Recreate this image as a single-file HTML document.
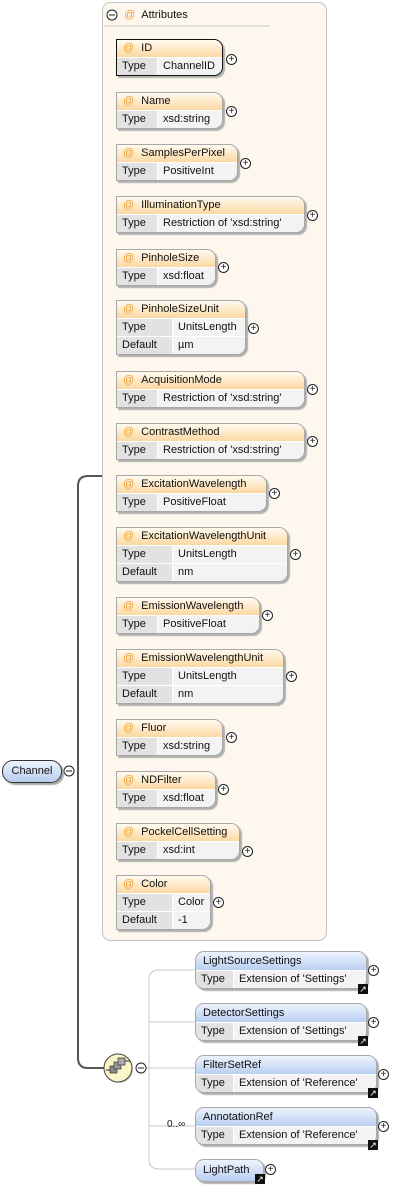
<!DOCTYPE html>
<html><head><meta charset="utf-8"><style>
body{margin:0;width:407px;height:1185px;background:#fff;position:relative;overflow:hidden;font-family:"Liberation Sans",sans-serif;font-size:11px;color:#111}
.a{position:absolute;border:1px solid #a8a8a8;border-radius:0 9px 9px 0;box-shadow:2px 2px 1px #b0b0b0;background:#f2f2f2;overflow:hidden;left:116px}
.sel{border-color:#111}
.h{height:17px;line-height:17px;background:linear-gradient(#fffaf0,#fcd8a2);padding-left:6px;white-space:nowrap}
.h i{color:#f0a030;font-style:normal;margin-right:7px}
.r{display:flex;height:17px;line-height:17px;border-top:1px solid #fff;white-space:nowrap}
.r span:first-child{background:#e2e2e2;width:35px;padding-left:5px;border-right:1px solid #fff;flex:none}
.d .r span:first-child{width:50px}
.r span:last-child{background:#f3f3f3;padding-left:5px;flex:1}
.e{position:absolute;border:1px solid #a8a8a8;border-radius:9px;box-shadow:2px 2px 1px #b0b0b0;background:#f2f2f2;overflow:hidden;left:195px}
.e .h{background:linear-gradient(#edf3fd,#b9cff1);padding-left:7px;height:18px;line-height:18px}
.e .r span:first-child{width:32px}
.p{position:absolute;width:9px;height:9px;border:1px solid #222;border-radius:50%;background:#fff;font-size:10px;line-height:9px;text-align:center;color:#222}
.ar{position:absolute;width:10px;height:10px;background:#111;color:#fff;font-size:9px;line-height:10px;text-align:center}
</style></head><body>
<svg width="407" height="1185" style="position:absolute;left:0;top:0">
<rect x="102.5" y="2.5" width="224" height="938" rx="8" fill="#fdf7ee" stroke="#c4c4c4"/>
<line x1="104" y1="26" x2="270" y2="26" stroke="#e4e0da" stroke-width="2"/>
<path d="M102 476 H88 Q78 476 78 486 V1058 Q78 1068 88 1068 H104" fill="none" stroke="#555" stroke-width="2"/>
<line x1="62" y1="771" x2="65" y2="771" stroke="#555"/>
<path d="M195 970 H159 Q149 970 149 980 V1159 Q149 1169 159 1169 H195" fill="none" stroke="#c8c8c8"/>
<line x1="149" y1="1022" x2="195" y2="1022" stroke="#c8c8c8"/>
<line x1="145" y1="1068" x2="195" y2="1068" stroke="#c8c8c8"/>
<line x1="149" y1="1126" x2="195" y2="1126" stroke="#c8c8c8"/>
<circle cx="119" cy="1069" r="14" fill="#999" opacity=".5"/>
<circle cx="118" cy="1068" r="14" fill="#fbf5c8" stroke="#444"/>
<rect x="110" y="1066" width="7" height="7" fill="#888" stroke="#333" stroke-width=".7"/>
<rect x="114" y="1062" width="7" height="7" fill="#999" stroke="#333" stroke-width=".7"/>
<rect x="118" y="1058" width="7" height="7" fill="#aaa" stroke="#333" stroke-width=".7"/>
<line x1="106" y1="1070" x2="110" y2="1070" stroke="#333"/><line x1="125" y1="1061" x2="130" y2="1061" stroke="#333"/>
<circle cx="69" cy="771" r="5" fill="#fff" stroke="#222"/><line x1="66" y1="771" x2="72" y2="771" stroke="#222"/>
<circle cx="141" cy="1068" r="5" fill="#fff" stroke="#222"/><line x1="138" y1="1068" x2="144" y2="1068" stroke="#222"/>
<circle cx="112" cy="15" r="5" fill="#fff" stroke="#222"/><line x1="109" y1="15" x2="115" y2="15" stroke="#222"/>
</svg>
<div style="position:absolute;left:124px;top:8px;line-height:15px"><span style="color:#f0a030">@</span>&nbsp;&nbsp;Attributes</div>
<div style="position:absolute;left:2px;top:760px;width:58px;height:21px;border:1px solid #333;border-radius:11px;background:linear-gradient(#eef4fd,#b7cdef);line-height:21px;text-align:center;box-shadow:2px 2px 1px #aaa">Channel</div>

<div class="a sel" style="top:39px;width:105px"><div class="h"><i>@</i>ID</div><div class="r"><span>Type</span><span>ChannelID</span></div></div><div class="p" style="left:226px;top:54px">+</div>
<div class="a" style="top:92px;width:105px"><div class="h"><i>@</i>Name</div><div class="r"><span>Type</span><span>xsd:string</span></div></div><div class="p" style="left:226px;top:106px">+</div>
<div class="a" style="top:144px;width:120px"><div class="h"><i>@</i>SamplesPerPixel</div><div class="r"><span>Type</span><span>PositiveInt</span></div></div><div class="p" style="left:240px;top:158px">+</div>
<div class="a" style="top:196px;width:187px"><div class="h"><i>@</i>IlluminationType</div><div class="r"><span>Type</span><span>Restriction of 'xsd:string'</span></div></div><div class="p" style="left:307px;top:210px">+</div>
<div class="a" style="top:249px;width:98px"><div class="h"><i>@</i>PinholeSize</div><div class="r"><span>Type</span><span>xsd:float</span></div></div><div class="p" style="left:218px;top:262px">+</div>
<div class="a d" style="top:300px;width:128px"><div class="h"><i>@</i>PinholeSizeUnit</div><div class="r"><span>Type</span><span>UnitsLength</span></div><div class="r"><span>Default</span><span>µm</span></div></div><div class="p" style="left:248px;top:323px">+</div>
<div class="a" style="top:371px;width:187px"><div class="h"><i>@</i>AcquisitionMode</div><div class="r"><span>Type</span><span>Restriction of 'xsd:string'</span></div></div><div class="p" style="left:307px;top:384px">+</div>
<div class="a" style="top:423px;width:187px"><div class="h"><i>@</i>ContrastMethod</div><div class="r"><span>Type</span><span>Restriction of 'xsd:string'</span></div></div><div class="p" style="left:307px;top:436px">+</div>
<div class="a" style="top:475px;width:149px"><div class="h"><i>@</i>ExcitationWavelength</div><div class="r"><span>Type</span><span>PositiveFloat</span></div></div><div class="p" style="left:269px;top:488px">+</div>
<div class="a d" style="top:527px;width:170px"><div class="h"><i>@</i>ExcitationWavelengthUnit</div><div class="r"><span>Type</span><span>UnitsLength</span></div><div class="r"><span>Default</span><span>nm</span></div></div><div class="p" style="left:290px;top:549px">+</div>
<div class="a" style="top:597px;width:142px"><div class="h"><i>@</i>EmissionWavelength</div><div class="r"><span>Type</span><span>PositiveFloat</span></div></div><div class="p" style="left:262px;top:610px">+</div>
<div class="a d" style="top:649px;width:166px"><div class="h"><i>@</i>EmissionWavelengthUnit</div><div class="r"><span>Type</span><span>UnitsLength</span></div><div class="r"><span>Default</span><span>nm</span></div></div><div class="p" style="left:286px;top:671px">+</div>
<div class="a" style="top:719px;width:105px"><div class="h"><i>@</i>Fluor</div><div class="r"><span>Type</span><span>xsd:string</span></div></div><div class="p" style="left:226px;top:732px">+</div>
<div class="a" style="top:771px;width:98px"><div class="h"><i>@</i>NDFilter</div><div class="r"><span>Type</span><span>xsd:float</span></div></div><div class="p" style="left:218px;top:784px">+</div>
<div class="a" style="top:823px;width:122px"><div class="h"><i>@</i>PockelCellSetting</div><div class="r"><span>Type</span><span>xsd:int</span></div></div><div class="p" style="left:242px;top:846px">+</div>
<div class="a d" style="top:875px;width:93px"><div class="h"><i>@</i>Color</div><div class="r"><span>Type</span><span>Color</span></div><div class="r"><span>Default</span><span>-1</span></div></div><div class="p" style="left:213px;top:897px">+</div>

<div class="e" style="top:951px;width:170px"><div class="h">LightSourceSettings</div><div class="r"><span>Type</span><span>Extension of 'Settings'</span></div></div><div class="p" style="left:368px;top:965px">+</div><div class="ar" style="left:358px;top:984px">↗</div>
<div class="e" style="top:1003px;width:170px"><div class="h">DetectorSettings</div><div class="r"><span>Type</span><span>Extension of 'Settings'</span></div></div><div class="p" style="left:368px;top:1017px">+</div><div class="ar" style="left:358px;top:1036px">↗</div>
<div class="e" style="top:1055px;width:180px"><div class="h">FilterSetRef</div><div class="r"><span>Type</span><span>Extension of 'Reference'</span></div></div><div class="p" style="left:378px;top:1069px">+</div><div class="ar" style="left:368px;top:1088px">↗</div>
<div style="position:absolute;left:167px;top:1119px;font-size:10px">0..∞</div>
<div class="e" style="top:1107px;width:180px"><div class="h">AnnotationRef</div><div class="r"><span>Type</span><span>Extension of 'Reference'</span></div></div><div class="p" style="left:378px;top:1121px">+</div><div class="ar" style="left:368px;top:1140px">↗</div>
<div class="e" style="top:1159px;width:67px;height:21px"><div class="h" style="height:21px;line-height:20px">LightPath</div></div><div class="p" style="left:265px;top:1164px">+</div><div class="ar" style="left:255px;top:1174px">↗</div>
</body></html>
